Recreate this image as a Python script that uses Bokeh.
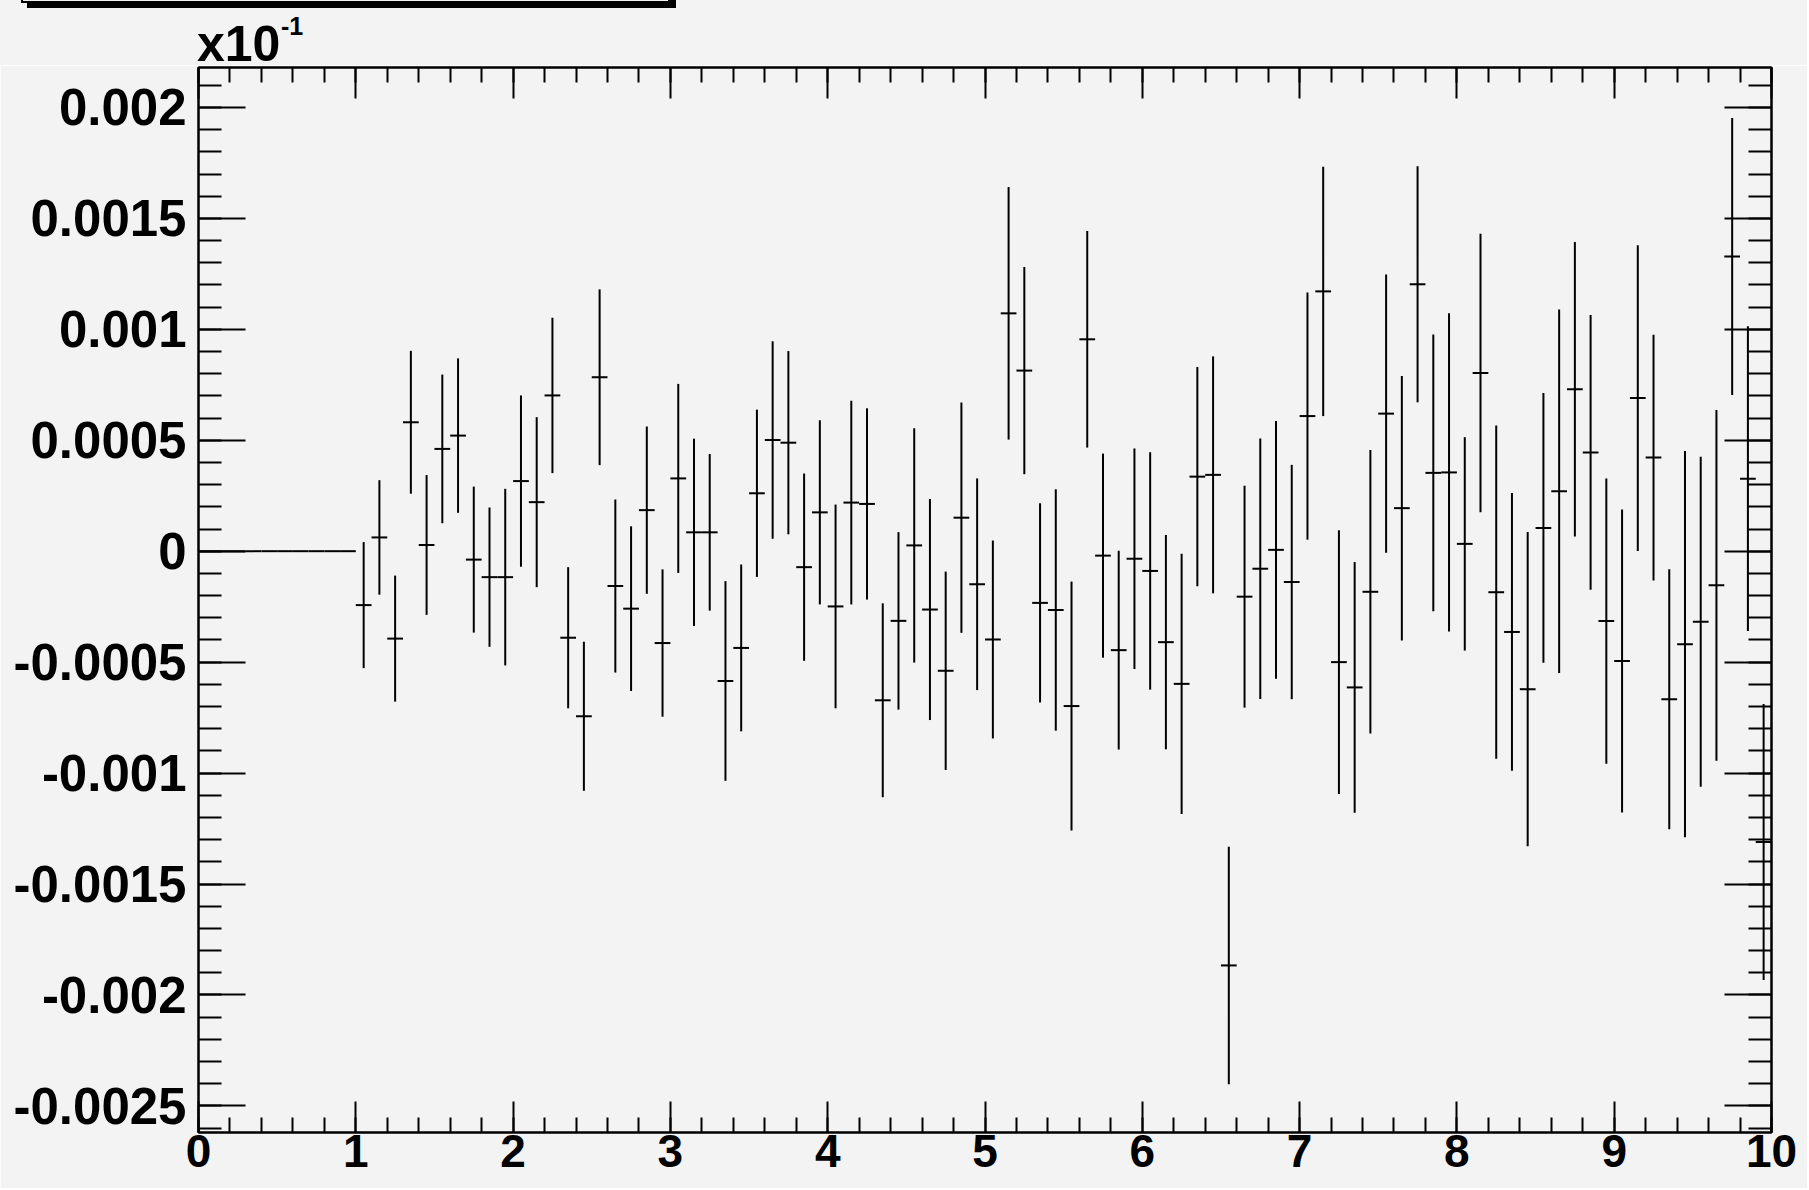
import numpy as np
from bokeh.plotting import figure
from bokeh.layouts import column
from bokeh.models import Range1d, LinearAxis, FixedTicker, ColumnDataSource, Div
from bokeh.embed import file_html
from bokeh.resources import INLINE

# ---------------- data ----------------
bin_width = 0.1
n_bins = 100
bin_centers = [round(0.05 + bin_width * i, 2) for i in range(n_bins)]

empty_values = [0.0] * 10
empty_errors = [0.0] * 10

values = [
    -0.000243, 0.000062, -0.000394, 0.000581, 0.000028, 0.000461, 0.000521, -0.000038, -0.000117, -0.000117,
    0.000316, 0.000221, 0.000702, -0.000390, -0.000744, 0.000784, -0.000157, -0.000259, 0.000185, -0.000414,
    0.000328, 0.000085, 0.000085, -0.000585, -0.000436, 0.000261, 0.000501, 0.000489, -0.000072, 0.000175,
    -0.000249, 0.000219, 0.000213, -0.000672, -0.000314, 0.000026, -0.000263, -0.000539, 0.000151, -0.000149,
    -0.000398, 0.001072, 0.000814, -0.000233, -0.000265, -0.000698, 0.000955, -0.000020, -0.000446, -0.000034,
    -0.000089, -0.000410, -0.000598, 0.000336, 0.000344, -0.001867, -0.000205, -0.000079, 0.000006, -0.000139,
    0.000609, 0.001171, -0.000500, -0.000614, -0.000183, 0.000620, 0.000194, 0.001203, 0.000353, 0.000355,
    0.000033, 0.000803, -0.000185, -0.000364, -0.000622, 0.000105, 0.000270, 0.000730, 0.000445, -0.000315,
    -0.000495, 0.000690, 0.000422, -0.000667, -0.000419, -0.000318, -0.000154, 0.001328, 0.000327, -0.001311,
]
errors = [
    0.000284, 0.000258, 0.000284, 0.000322, 0.000315, 0.000335, 0.000348, 0.000329, 0.000314, 0.000398,
    0.000386, 0.000383, 0.000350, 0.000318, 0.000336, 0.000396, 0.000390, 0.000371, 0.000377, 0.000332,
    0.000426, 0.000422, 0.000353, 0.000450, 0.000376, 0.000377, 0.000445, 0.000413, 0.000422, 0.000415,
    0.000459, 0.000459, 0.000431, 0.000437, 0.000400, 0.000528, 0.000498, 0.000447, 0.000519, 0.000477,
    0.000446, 0.000569, 0.000467, 0.000449, 0.000544, 0.000561, 0.000488, 0.000460, 0.000448, 0.000497,
    0.000535, 0.000483, 0.000586, 0.000494, 0.000534, 0.000535, 0.000500, 0.000587, 0.000581, 0.000528,
    0.000557, 0.000562, 0.000594, 0.000565, 0.000639, 0.000627, 0.000596, 0.000532, 0.000624, 0.000717,
    0.000481, 0.000628, 0.000751, 0.000626, 0.000708, 0.000608, 0.000819, 0.000664, 0.000619, 0.000643,
    0.000683, 0.000689, 0.000554, 0.000586, 0.000870, 0.000744, 0.000790, 0.000624, 0.000687, 0.000622,
]

y_ticks = [-0.0025, -0.002, -0.0015, -0.001, -0.0005, 0.0, 0.0005, 0.001, 0.0015, 0.002]
y_tick_labels = ["-0.0025", "-0.002", "-0.0015", "-0.001", "-0.0005", "0",
                 "0.0005", "0.001", "0.0015", "0.002"]
x_ticks = [0, 1, 2, 3, 4, 5, 6, 7, 8, 9, 10]
x_tick_labels = ["0", "1", "2", "3", "4", "5", "6", "7", "8", "9", "10"]
exponent_text = "x10"
exponent_power = "-1"

# ---------------- layout constants ----------------
BG = "#f3f3f3"
FONT = "Liberation Sans"
W = 1807
HEAD_H = 65
MAIN_H = 1188 - HEAD_H
BORDER_L = 198
BORDER_R = W - 1771

# ---------------- derived ----------------
all_values = empty_values + values
all_errors = empty_errors + errors
src = ColumnDataSource(dict(
    x=bin_centers,
    y=all_values,
    lo=[v - e for v, e in zip(all_values, all_errors)],
    hi=[v + e for v, e in zip(all_values, all_errors)],
    left=[c - bin_width / 2 for c in bin_centers],
    right=[c + bin_width / 2 for c in bin_centers],
))

# ---------------- header: cut-off legend box + axis exponent ----------------
head_html = (
    f'<div style="position:relative;width:{W}px;height:{HEAD_H}px;'
    f'background:{BG};font-family:\'{FONT}\',sans-serif;font-weight:bold;color:black;">'
    '<div style="position:absolute;left:21px;top:-20px;width:649px;height:23px;'
    f'border:2px solid black;background:{BG};box-shadow:6px 5px 0 black;"></div>'
    '<span style="position:absolute;left:197px;top:19px;font-size:50px;line-height:50px;'
    f'white-space:nowrap;">{exponent_text}</span>'
    '<span style="position:absolute;left:281px;top:14px;font-size:25px;line-height:25px;'
    f'white-space:nowrap;">{exponent_power}</span>'
    '</div>'
)
head = Div(text=head_html, width=W, height=HEAD_H, margin=0,
           styles={"background-color": BG, "overflow": "visible"})

# ---------------- main plot ----------------
p = figure(width=W, height=MAIN_H,
           x_range=Range1d(0, 10), y_range=Range1d(-0.00262, 0.00218),
           output_backend="svg", toolbar_location=None,
           x_axis_location=None, y_axis_location=None,
           min_border_left=BORDER_L, min_border_right=BORDER_R,
           min_border_top=2, min_border_bottom=56)
p.background_fill_color = BG
p.border_fill_color = BG
p.outline_line_color = "black"
p.outline_line_width = 2
p.grid.visible = False

x_minor = [round(0.2 * i, 2) for i in range(51)]
y_minor = [round(1e-4 * i, 6) for i in range(-26, 22)]
xticker = FixedTicker(ticks=x_ticks, minor_ticks=x_minor)
yticker = FixedTicker(ticks=y_ticks, minor_ticks=y_minor)


def style_axis(ax, major_len, minor_len, labels, font_size, standoff):
    ax.axis_line_color = "black"
    ax.axis_line_width = 2
    ax.major_tick_in = major_len
    ax.major_tick_out = 0
    ax.minor_tick_in = minor_len
    ax.minor_tick_out = 0
    ax.major_tick_line_width = 2
    ax.minor_tick_line_width = 2
    ax.major_tick_line_color = "black"
    ax.minor_tick_line_color = "black"
    if labels:
        ax.major_label_text_font = FONT
        ax.major_label_text_font_style = "bold"
        ax.major_label_text_font_size = font_size
        ax.major_label_text_color = "black"
        ax.major_label_standoff = standoff
    else:
        ax.major_label_text_font_size = "1px"
        ax.major_label_text_color = None
        ax.major_label_standoff = 0


xb = LinearAxis(ticker=xticker,
                major_label_overrides={t: l for t, l in zip(x_ticks, x_tick_labels)})
style_axis(xb, 31, 15, True, "46px", 2)
p.add_layout(xb, "below")

xt = LinearAxis(ticker=xticker)
style_axis(xt, 31, 15, False, None, 0)
p.add_layout(xt, "above")

yl = LinearAxis(ticker=yticker,
                major_label_overrides={t: l for t, l in zip(y_ticks, y_tick_labels)})
style_axis(yl, 47, 23, True, "51px", 12)
p.add_layout(yl, "left")

yr = LinearAxis(ticker=yticker)
style_axis(yr, 47, 23, False, None, 0)
p.add_layout(yr, "right")

# error bars (ROOT "E" style: vertical error + horizontal bin-width bar)
p.segment("x", "lo", "x", "hi", source=src, line_color="black", line_width=2)
p.segment("left", "y", "right", "y", source=src, line_color="black", line_width=2)

layout = column(head, p, spacing=0)
open("out.html", "w").write(file_html(layout, INLINE))
